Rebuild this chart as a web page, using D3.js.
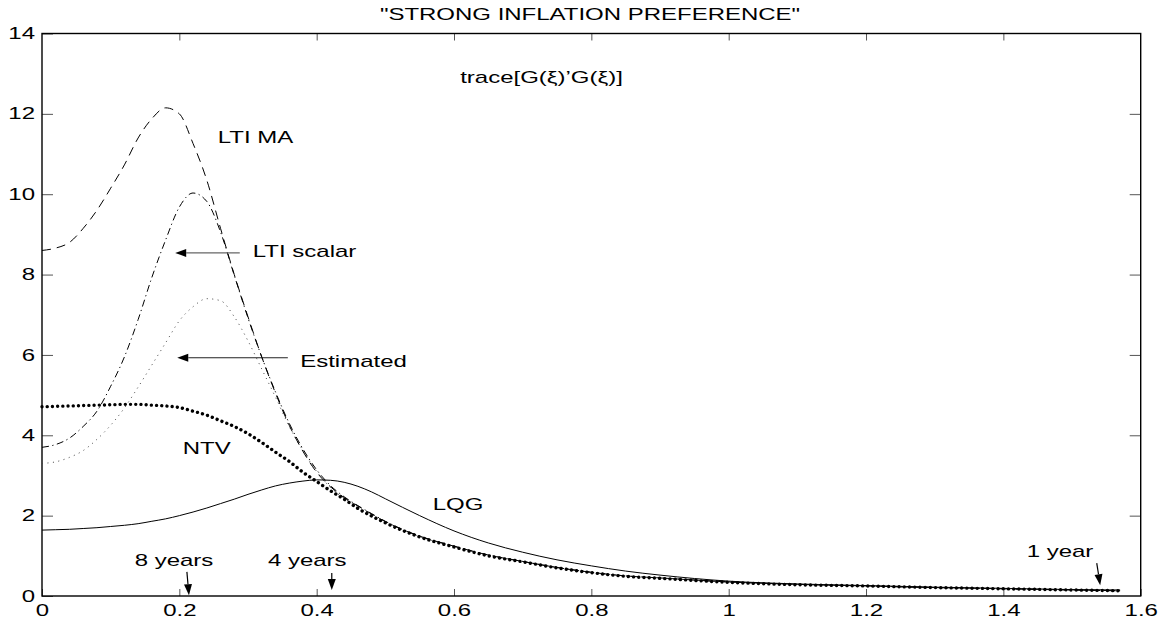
<!DOCTYPE html>
<html>
<head>
<meta charset="utf-8">
<script src="https://cdn.jsdelivr.net/npm/d3@7"></script>
<style>
  body { margin: 0; background: #fff; }
  text { font-family: "Liberation Sans", Arial, Helvetica, sans-serif; font-size: 16px; fill: #000; }
</style>
</head>
<body>
<script>
// frequency grid (shared by every curve)
var xs = [0, 0.02, 0.04, 0.06, 0.08, 0.10, 0.12, 0.14, 0.16, 0.18, 0.20, 0.22, 0.24, 0.26, 0.28, 0.30,
          0.32, 0.34, 0.36, 0.38, 0.40, 0.42, 0.44, 0.46, 0.48, 0.50, 0.55, 0.60, 0.65, 0.70, 0.75, 0.80,
          0.85, 0.90, 1.00, 1.10, 1.20, 1.30, 1.40, 1.50, 1.57];

var ltiMA = [8.60, 8.66, 8.80, 9.15, 9.60, 10.15, 10.73, 11.40, 11.88, 12.15, 12.00, 11.26, 10.35, 9.15, 8.00, 6.95,
             5.95, 5.05, 4.25, 3.60, 3.08, 2.72, 2.45, 2.24, 2.04, 1.85, 1.49, 1.24, 1.02, 0.86, 0.71, 0.59,
             0.50, 0.45, 0.35, 0.29, 0.25, 0.21, 0.18, 0.15, 0.13];

var ltiScalar = [3.70, 3.77, 3.93, 4.22, 4.60, 5.22, 5.95, 6.88, 7.93, 8.86, 9.68, 10.03, 9.82, 9.06, 7.98, 6.92,
                 5.95, 5.08, 4.30, 3.66, 3.14, 2.75, 2.47, 2.25, 2.05, 1.86, 1.49, 1.24, 1.02, 0.86, 0.71, 0.59,
                 0.50, 0.45, 0.35, 0.29, 0.25, 0.21, 0.18, 0.15, 0.13];

var estimated = [3.30, 3.34, 3.45, 3.62, 3.90, 4.25, 4.68, 5.20, 5.75, 6.30, 6.85, 7.20, 7.40, 7.35, 6.95, 6.35,
                 5.65, 4.95, 4.22, 3.62, 3.10, 2.70, 2.43, 2.22, 2.03, 1.84, 1.48, 1.23, 1.01, 0.86, 0.71, 0.59,
                 0.50, 0.45, 0.35, 0.29, 0.25, 0.21, 0.18, 0.15, 0.13];

var ntv = [4.71, 4.72, 4.73, 4.74, 4.75, 4.76, 4.77, 4.77, 4.75, 4.73, 4.69, 4.60, 4.50, 4.36, 4.22, 4.04,
           3.82, 3.58, 3.35, 3.08, 2.85, 2.62, 2.41, 2.18, 1.99, 1.82, 1.47, 1.22, 1.00, 0.85, 0.70, 0.58,
           0.49, 0.44, 0.34, 0.28, 0.25, 0.21, 0.18, 0.15, 0.13];

var lqg = [1.64, 1.65, 1.66, 1.68, 1.70, 1.73, 1.76, 1.80, 1.86, 1.92, 2.00, 2.09, 2.19, 2.30, 2.41, 2.53,
           2.64, 2.74, 2.81, 2.86, 2.89, 2.88, 2.83, 2.73, 2.59, 2.42, 2.00, 1.62, 1.32, 1.09, 0.90, 0.75,
           0.62, 0.52, 0.37, 0.30, 0.26, 0.22, 0.19, 0.16, 0.15];

var xTicks = [0, 0.2, 0.4, 0.6, 0.8, 1, 1.2, 1.4, 1.6];
var yTicks = [0, 2, 4, 6, 8, 10, 12, 14];

// curve labels (data coords of the text start / baseline)
var labelText = ["LTI MA", "LTI scalar", "Estimated", "NTV", "LQG", "8 years", "4 years", "1 year", "trace[G(\u03BE)\u2019G(\u03BE)]"];
var labelX = [0.256, 0.307, 0.376, 0.205, 0.569, 0.135, 0.329, 1.434, 0.609];
var labelY = [11.27, 8.44, 5.70, 3.53, 2.14, 0.75, 0.75, 0.97, 12.77];

// arrows: from (x1,y1) to head at (x2,y2)
var arrowX1 = [0.288, 0.358, 0.211, 0.422, 1.536];
var arrowY1 = [8.54, 5.93, 0.60, 0.57, 0.82];
var arrowX2 = [0.194, 0.197, 0.214, 0.422, 1.541];
var arrowY2 = [8.54, 5.93, 0.02, 0.15, 0.27];
var arrowColor = ["#666", "#222", "#000", "#000", "#000"];

var margin = { top: 33.5, right: 29.3, bottom: 29, left: 42 },
    width = 1170 - margin.left - margin.right,
    height = 625 - margin.top - margin.bottom;

var SX = 1.5; // glyphs in the picture are stretched sideways

var svg = d3.select("body").append("svg")
    .attr("width", 1170)
    .attr("height", 625);

var g = svg.append("g")
    .attr("transform", "translate(" + margin.left + "," + margin.top + ")");

var x = d3.scaleLinear().domain([0, 1.6]).range([0, width]);
var y = d3.scaleLinear().domain([0, 14]).range([height, 0]);

function addLabel(px, py, s, anchor) {
    return g.append("text")
        .attr("transform", "translate(" + px + "," + py + ") scale(" + SX + ",1)")
        .attr("text-anchor", anchor || "start")
        .text(s);
}

// axes with inward ticks
function styleAxis(sel) {
    sel.select(".domain").remove();
    sel.selectAll(".tick line").attr("stroke", "#555").attr("stroke-width", 1);
}

var xAxis = g.append("g")
    .attr("transform", "translate(0," + height + ")")
    .call(d3.axisBottom(x).tickValues(xTicks).tickSizeInner(-7).tickSizeOuter(0).tickPadding(9)
        .tickFormat(d3.format("")));
styleAxis(xAxis);
xAxis.selectAll("text")
    .attr("transform", "scale(" + SX + ",1)")
    .style("font-size", "16px").style("font-family", null);

var yAxis = g.append("g")
    .call(d3.axisLeft(y).tickValues(yTicks).tickSizeInner(-11).tickSizeOuter(0).tickPadding(0));
styleAxis(yAxis);
yAxis.selectAll("text")
    .attr("x", -7 / SX)
    .attr("transform", "scale(" + SX + ",1)")
    .style("font-size", "16px").style("font-family", null);

var topAxis = g.append("g")
    .call(d3.axisTop(x).tickValues(xTicks.slice(1, -1)).tickSizeInner(-7).tickSizeOuter(0).tickFormat(""));
styleAxis(topAxis);

var rightAxis = g.append("g")
    .attr("transform", "translate(" + width + ",0)")
    .call(d3.axisRight(y).tickValues(yTicks.slice(1, -1)).tickSizeInner(-11).tickSizeOuter(0).tickFormat(""));
styleAxis(rightAxis);

g.append("rect")
    .attr("width", width).attr("height", height)
    .attr("fill", "none").attr("stroke", "#000").attr("stroke-width", 1.4);

// curves
var line = d3.line()
    .x(function (d, i) { return x(xs[i]); })
    .y(function (d) { return y(d); })
    .curve(d3.curveMonotoneX);

var series = [
    { values: lqg, dash: null, w: 1, color: "#000", cap: "butt" },
    { values: estimated, dash: "1,4.5", w: 1, color: "#444", cap: "butt" },
    { values: ltiScalar, dash: "7,3.5,1.2,3.5", w: 1, color: "#000", cap: "butt" },
    { values: ltiMA, dash: "9,6", w: 1, color: "#000", cap: "butt" },
    { values: ntv, dash: "0.01,5.2", w: 3.4, color: "#000", cap: "round" }
];

g.selectAll(".curve")
    .data(series)
    .enter().append("path")
    .attr("class", "curve")
    .attr("d", function (d) { return line(d.values); })
    .attr("fill", "none")
    .attr("stroke", function (d) { return d.color; })
    .attr("stroke-width", function (d) { return d.w; })
    .attr("stroke-linecap", function (d) { return d.cap; })
    .attr("stroke-dasharray", function (d) { return d.dash; });

// labels
labelText.forEach(function (s, i) {
    addLabel(x(labelX[i]), y(labelY[i]), s);
});

// arrows
arrowX1.forEach(function (ax, i) {
    var x1 = x(ax), y1 = y(arrowY1[i]), x2 = x(arrowX2[i]), y2 = y(arrowY2[i]);
    var dx = x2 - x1, dy = y2 - y1, len = Math.sqrt(dx * dx + dy * dy);
    var ux = dx / len, uy = dy / len;
    var hl = 11, hw = 4;
    var bx = x2 - ux * hl, by = y2 - uy * hl;
    g.append("line")
        .attr("x1", x1).attr("y1", y1).attr("x2", bx).attr("y2", by)
        .attr("stroke", arrowColor[i]).attr("stroke-width", 1.2);
    g.append("path")
        .attr("d", "M" + x2 + "," + y2 + "L" + (bx - uy * hw) + "," + (by + ux * hw) +
            "L" + (bx + uy * hw) + "," + (by - ux * hw) + "Z")
        .attr("fill", "#000");
});

// title
svg.append("text")
    .attr("transform", "translate(590,20) scale(" + SX + ",1)")
    .attr("text-anchor", "middle")
    .text("\"STRONG INFLATION PREFERENCE\"");
</script>
</body>
</html>
